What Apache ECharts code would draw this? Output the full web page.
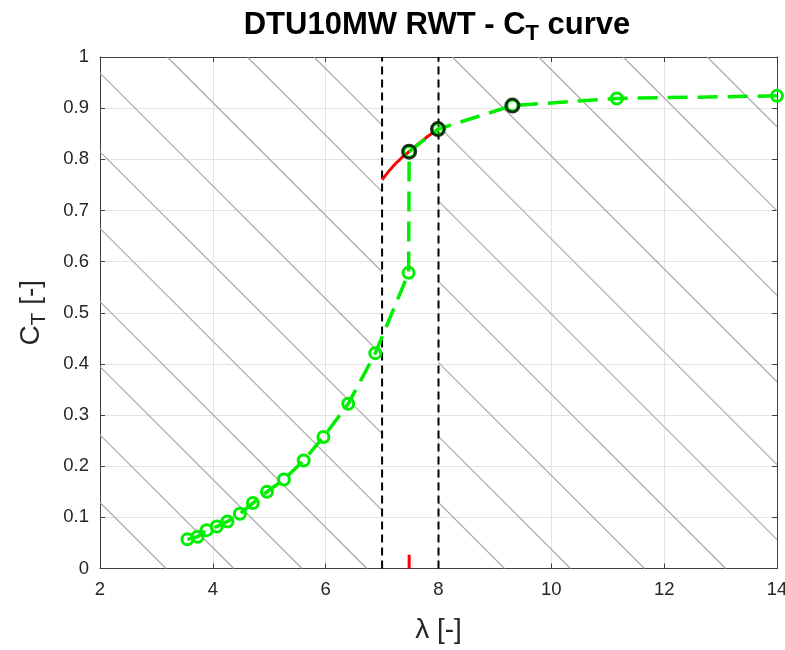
<!DOCTYPE html>
<html><head><meta charset="utf-8">
<script src="https://cdn.jsdelivr.net/npm/echarts@6/dist/echarts.min.js"></script>
<style>html,body{margin:0;padding:0;background:#fff}#c{width:785px;height:650px}</style>
</head><body><div id="c"></div>
<script>
// ---- data ----
const xTicks = [2, 4, 6, 8, 10, 12, 14];
const yTicks = [0, 0.1, 0.2, 0.3, 0.4, 0.5, 0.6, 0.7, 0.8, 0.9, 1];
const greenLambda = [3.55, 3.73, 3.89, 4.07, 4.26, 4.48, 4.71, 4.96, 5.26, 5.61, 5.96, 6.40, 6.88, 7.47, 7.48, 7.99, 9.31, 11.16, 14.0];
const greenCT     = [0.057, 0.062, 0.075, 0.082, 0.092, 0.107, 0.128, 0.150, 0.174, 0.211, 0.257, 0.322, 0.421, 0.578, 0.815, 0.859, 0.905, 0.919, 0.924];
const blackLambda = [7.48, 7.99, 9.31];
const blackCT     = [0.815, 0.859, 0.905];
const redLambda = [7.0, 7.1, 7.2, 7.3, 7.4, 7.48, 7.6, 7.7, 7.8, 7.9, 8.0];
const redCT     = [0.760, 0.774, 0.787, 0.798, 0.808, 0.815, 0.826, 0.835, 0.844, 0.852, 0.859];
const redMarkLambda = [7.48, 7.48];
const redMarkCT = [0, 0.027];
const boundLambda = [7, 8];
// hatching: lines CT = slope*(lambda0 - lambda) inside two regions
const hatchSlope = 0.1103;
const hatchLeftRegion = [2, 7];
const hatchLeftL0 = [3.17, 4.37, 5.58, 6.73, 8.03, 9.39, 10.78, 12.26, 13.68, 14.86];
const hatchRightRegion = [8, 14];
const hatchRightL0 = [9.17, 10.34, 11.65, 13.09, 14.51, 15.84, 17.31, 18.84, 20.34, 21.83];

function hatchSegs(region, l0s) {
  const out = [];
  l0s.forEach(l0 => {
    const a = Math.max(region[0], l0 - 1 / hatchSlope);
    const b = Math.min(region[1], l0);
    if (b > a) out.push([[a, hatchSlope * (l0 - a)], [b, hatchSlope * (l0 - b)]]);
  });
  return out;
}
const hatch = hatchSegs(hatchLeftRegion, hatchLeftL0).concat(hatchSegs(hatchRightRegion, hatchRightL0));

const series = [];
hatch.forEach(seg => series.push({
  type: 'line', data: seg, symbol: 'none', silent: true, z: 1,
  lineStyle: { color: '#a6a6a6', width: 1.1 }
}));
boundLambda.forEach(l => series.push({
  type: 'line', data: [[l, 0], [l, 1]], symbol: 'none', z: 2,
  lineStyle: { color: '#000', width: 2, type: [8, 5] }
}));
series.push({
  type: 'line', data: redLambda.map((l, i) => [l, redCT[i]]), symbol: 'none', smooth: true, z: 3,
  lineStyle: { color: '#ff0000', width: 3 }
});
series.push({
  type: 'line', data: redMarkLambda.map((l, i) => [l, redMarkCT[i]]), symbol: 'none', z: 3,
  lineStyle: { color: '#ff0000', width: 3 }
});
series.push({
  type: 'line', data: greenLambda.map((l, i) => [l, greenCT[i]]), z: 4,
  symbol: 'circle', symbolSize: 11, showAllSymbol: true,
  itemStyle: { color: 'rgba(255,255,255,0)', borderColor: '#00ee00', borderWidth: 3 },
  lineStyle: { color: '#00ee00', width: 3.5, type: [20, 10] }
});
series.push({
  type: 'scatter', data: blackLambda.map((l, i) => [l, blackCT[i]]), z: 5,
  symbol: 'circle', symbolSize: 13,
  itemStyle: { color: 'rgba(255,255,255,0)', borderColor: '#000', borderWidth: 3 }
});

const axisCol = '#404040';
const font = 'Liberation Sans, Arial, sans-serif';
const chart = echarts.init(document.getElementById('c'), null, { renderer: 'canvas' });
chart.setOption({
  animation: false,
  backgroundColor: '#fff',
  title: {
    text: '{a|DTU10MW RWT - C}{s|T}{a| curve}',
    left: 432, top: 0, textAlign: 'center',
    textStyle: {
      rich: {
        a: { fontFamily: font, fontWeight: 'bold', fontSize: 31, color: '#000', lineHeight: 40 },
        s: { fontFamily: font, fontWeight: 'bold', fontSize: 22, color: '#000', padding: [18, 0, 0, 0], lineHeight: 40 }
      }
    }
  },
  grid: { left: 100, top: 57, width: 677, height: 511.5, containLabel: false, outerBoundsMode: 'none' },
  xAxis: [{
    type: 'value', min: 2, max: 14, interval: 2,
    name: 'λ [-]', nameLocation: 'middle', nameGap: 48,
    nameTextStyle: { fontFamily: font, fontSize: 28, color: '#262626' },
    axisLine: { show: true, lineStyle: { color: axisCol, width: 1 } },
    axisTick: { show: true, inside: true, length: 5, lineStyle: { color: axisCol } },
    axisLabel: { fontFamily: font, fontSize: 18.5, color: '#262626', margin: 12 },
    splitLine: { show: true, lineStyle: { color: '#e3e3e3', width: 1 } }
  }, {
    type: 'value', min: 2, max: 14, interval: 2, position: 'top',
    axisLine: { show: true, onZero: false, lineStyle: { color: axisCol, width: 1 } },
    axisTick: { show: true, inside: true, length: 5, lineStyle: { color: axisCol } },
    axisLabel: { show: false }, splitLine: { show: false }
  }],
  yAxis: [{
    type: 'value', min: 0, max: 1, interval: 0.1,
    name: '{a|C}{s|T}{a| [-]}', nameLocation: 'middle', nameGap: 52, nameRotate: 90,
    nameTextStyle: {
      rich: {
        a: { fontFamily: font, fontSize: 28, color: '#262626', lineHeight: 34 },
        s: { fontFamily: font, fontSize: 21, color: '#262626', padding: [16, 0, 0, 0], lineHeight: 34 }
      }
    },
    axisLine: { show: true, lineStyle: { color: axisCol, width: 1 } },
    axisTick: { show: true, inside: true, length: 5, lineStyle: { color: axisCol } },
    axisLabel: { fontFamily: font, fontSize: 18.5, color: '#262626', margin: 11,
      formatter: v => String(Math.round(v * 10) / 10) },
    splitLine: { show: true, lineStyle: { color: '#e3e3e3', width: 1 } }
  }, {
    type: 'value', min: 0, max: 1, interval: 0.1, position: 'right',
    axisLine: { show: true, onZero: false, lineStyle: { color: axisCol, width: 1 } },
    axisTick: { show: true, inside: true, length: 5, lineStyle: { color: axisCol } },
    axisLabel: { show: false }, splitLine: { show: false }
  }],
  series: series
});
</script></body></html>
